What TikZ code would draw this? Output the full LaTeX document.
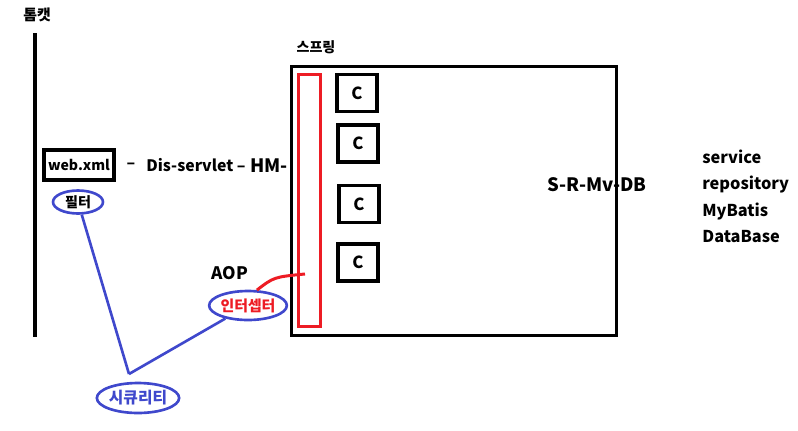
\documentclass[tikz,border=0pt]{standalone}
\usepackage{fontspec}
\setmainfont{Noto Sans CJK KR}
\usepackage{xcolor}
\usetikzlibrary{shapes.geometric, positioning}
\definecolor{paintblue}{RGB}{63,72,204}
\definecolor{paintred}{RGB}{237,28,36}

\begin{document}
\begin{tikzpicture}[
    x=0.02cm, y=-0.02cm,
    txt/.style={font=\bfseries\fontsize{#1}{#1}\selectfont, inner sep=0pt},
    txt/.default=8.5,
    wall/.style={line width=1.8pt},
    box/.style={rectangle, draw, line width=1.8pt, inner sep=0pt},
    cbox/.style={box, minimum width=0.8cm, minimum height=0.74cm, font=\bfseries\fontsize{9.5}{10}\selectfont},
    oval/.style={ellipse, draw=paintblue, line width=1.5pt, inner sep=0pt},
    bline/.style={draw=paintblue, line width=1.5pt},
    rline/.style={draw=paintred, line width=1.7pt}
]
\useasboundingbox (0,0) rectangle (798,430);

\node (tomcat) [txt=8.5] at (37,15) {톰캣};
\draw [wall] (35,33) -- (35,337);

\node (webxml) [box, minimum width=1.4cm, minimum height=0.6cm, font=\bfseries\fontsize{8}{9}\selectfont] at (79,165) {web.xml};
\node (dash) [txt=9] at (131,166) {–};
\node (dis) [txt=9, anchor=west] at (146,165) {Dis-servlet –};
\node (hm) [txt=10.5, anchor=west] at (250,166) {HM-};

\node (springlbl) [txt=8] at (316,47) {스프링};
\node (spring) [box, minimum width=6.5cm, minimum height=5.38cm] at (454,201) {};
\node (chain) [rectangle, draw=paintred, line width=1.7pt, minimum width=0.44cm, minimum height=5.04cm] at (309.5,200.5) {};

\node (c1) [cbox] at (357,93) {C};
\node (c2) [cbox] at (358,143.5) {C};
\node (c3) [cbox] at (359,204) {C};
\node (c4) [cbox] at (358,262.5) {C};

\node (srmv) [txt=10.5] at (597,185) {S-R-Mv-DB};

\node (service) [txt=9.3, anchor=west] at (702,157) {service};
\node (repo) [txt=9.3, anchor=west] at (702,184) {repository};
\node (mybatis) [txt=9.3, anchor=west] at (702,211) {MyBatis};
\node (database) [txt=9.3, anchor=west] at (702,237) {DataBase};

\node (filter) [oval, minimum width=1cm, minimum height=0.46cm, font=\bfseries\fontsize{8}{8}\selectfont] at (78,202) {필터};
\node (aop) [txt=9.8] at (230,273) {AOP};
\node (inter) [oval, minimum width=1.36cm, minimum height=0.58cm, text=paintred, font=\bfseries\fontsize{8.5}{9}\selectfont] at (248,305.5) {인터셉터};
\node (security) [oval, minimum width=1.58cm, minimum height=0.6cm, text=paintblue, font=\bfseries\fontsize{9}{10}\selectfont] at (138,398) {시큐리티};

\coordinate (meet) at (129,374);
\coordinate (hook) at (305,274);

\draw [bline] (filter) -- (meet);
\draw [bline] (inter) -- (meet);
\draw [rline] (inter.60) .. controls (274,277) .. (hook);

\end{tikzpicture}
\end{document}
